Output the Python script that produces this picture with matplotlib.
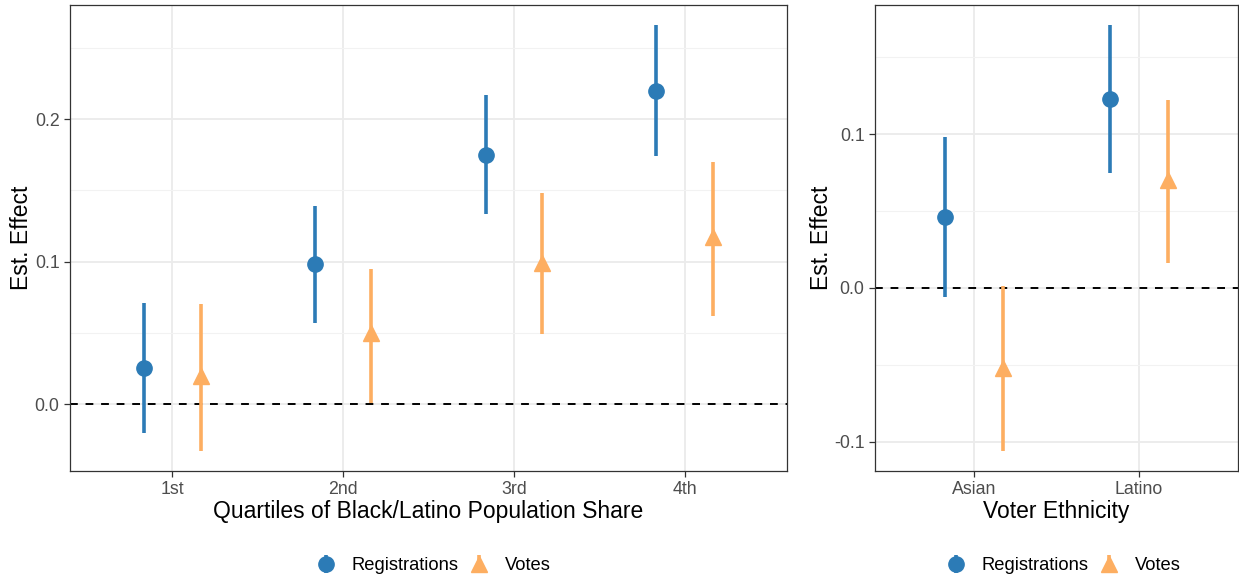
import matplotlib
matplotlib.use("Agg")
import matplotlib.pyplot as plt
from matplotlib.ticker import MultipleLocator
import numpy as np

plt.rcParams['font.family'] = ['Liberation Sans', 'DejaVu Sans']

# Left panel data
quartiles = ["1st", "2nd", "3rd", "4th"]
reg_est = [0.025, 0.098, 0.175, 0.220]
reg_lo = [-0.020, 0.057, 0.133, 0.174]
reg_hi = [0.071, 0.139, 0.217, 0.266]
vote_est = [0.020, 0.050, 0.099, 0.117]
vote_lo = [-0.033, 0.001, 0.049, 0.062]
vote_hi = [0.070, 0.095, 0.148, 0.170]

# Right panel data
ethnicities = ["Asian", "Latino"]
eth_reg_est = [0.046, 0.123]
eth_reg_lo = [-0.006, 0.075]
eth_reg_hi = [0.098, 0.171]
eth_vote_est = [-0.052, 0.070]
eth_vote_lo = [-0.106, 0.016]
eth_vote_hi = [0.001, 0.122]

BLUE = "#2C7BB6"
ORANGE = "#FDAE61"

fig = plt.figure(figsize=(12.39, 5.79), dpi=100)
axL = fig.add_axes([70/1239, 1-471/579, (787-70)/1239, (471-5)/579])
axR = fig.add_axes([875/1239, 1-471/579, (1238-875)/1239, (471-5)/579])


def draw(ax, cats, re, rl, rh, ve, vl, vh, dodge, ylim, xlabel):
    x = np.arange(len(cats))
    re, rl, rh = map(np.array, (re, rl, rh))
    ve, vl, vh = map(np.array, (ve, vl, vh))
    ax.axhline(0, color="black", lw=1.4, ls=(0, (4, 4)), zorder=2)
    h1 = ax.errorbar(x - dodge, re, yerr=[re - rl, rh - re], fmt='o', color=BLUE,
                     ms=11, elinewidth=2.6, capsize=0, zorder=3, label="Registrations")
    h2 = ax.errorbar(x + dodge, ve, yerr=[ve - vl, vh - ve], fmt='^', color=ORANGE,
                     ms=11, elinewidth=2.6, capsize=0, zorder=3, label="Votes")
    ax.set_xlim(-0.6, len(cats) - 0.4)
    ax.set_ylim(*ylim)
    ax.set_xticks(x)
    ax.set_xticklabels(cats)
    ax.yaxis.set_major_locator(MultipleLocator(0.1))
    ax.yaxis.set_minor_locator(MultipleLocator(0.05))
    ax.yaxis.set_major_formatter(matplotlib.ticker.FuncFormatter(lambda v, p: f"{v:.1f}".replace("-0.0", "0.0")))
    ax.grid(which='major', color="#EBEBEB", lw=1.3, zorder=0)
    ax.grid(which='minor', axis='y', color="#F2F2F2", lw=0.8, zorder=0)
    ax.tick_params(which='minor', length=0)
    ax.tick_params(which='major', length=4, width=0.9, color="#333333",
                   labelcolor="#4D4D4D", labelsize=12.8)
    for s in ax.spines.values():
        s.set_color("#333333")
        s.set_linewidth(0.9)
    ax.set_axisbelow(True)
    ax.set_ylabel("Est. Effect", fontsize=16.5, labelpad=1)
    ax.set_xlabel(xlabel, fontsize=16.5, labelpad=1)
    return h1, h2


h1, h2 = draw(axL, quartiles, reg_est, reg_lo, reg_hi, vote_est, vote_lo, vote_hi,
              0.165, (-0.047, 0.280), "Quartiles of Black/Latino Population Share")
draw(axR, ethnicities, eth_reg_est, eth_reg_lo, eth_reg_hi, eth_vote_est, eth_vote_lo, eth_vote_hi,
     0.175, (-0.119, 0.184), "Voter Ethnicity")

for cx in (433/1239, 1063/1239):
    fig.legend([h1, h2], ["Registrations", "Votes"], loc='center', bbox_to_anchor=(cx, 1-566/579),
               ncol=2, frameon=False, fontsize=13.2, handlelength=1.2, handletextpad=0.8,
               columnspacing=0.5)

fig.savefig("out.png", dpi=100)
